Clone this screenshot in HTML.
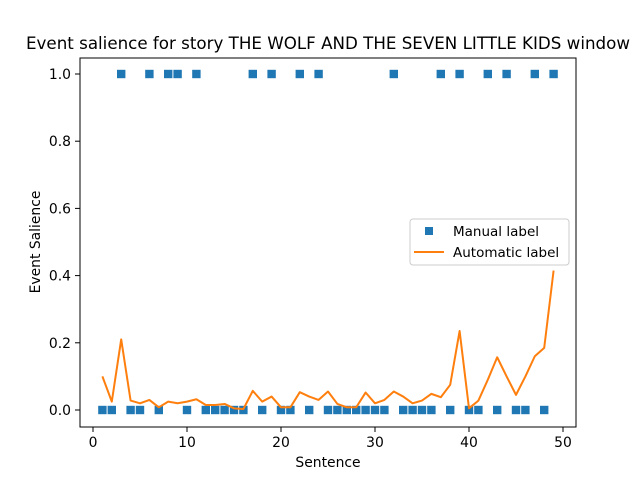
<!DOCTYPE html>
<html><head><meta charset="utf-8"><style>
body{margin:0;background:#fff;}
svg text{font-family:"DejaVu Sans","Liberation Sans",sans-serif;fill:#000;}
</style></head><body>
<svg id="chart" width="640" height="480" xmlns="http://www.w3.org/2000/svg">
<rect width="640" height="480" fill="#fff"/>
<text x="328" y="49" font-size="16.7" text-anchor="middle">Event salience for story THE WOLF AND THE SEVEN LITTLE KIDS window</text>
<g id="marks"></g>
<rect x="80" y="58" width="496" height="369" fill="none" stroke="#000" stroke-width="1"/>
<g id="axes"></g>
<text x="328" y="467" font-size="13.9" text-anchor="middle">Sentence</text>
<text x="0" y="0" font-size="13.9" text-anchor="middle" transform="translate(40,242) rotate(-90)">Event Salience</text>
<g>
<rect x="410" y="219" width="159" height="46" rx="3" fill="#fff" stroke="#ccc" stroke-width="1"/>
<rect x="425" y="227" width="8" height="8" fill="#1f77b4"/>
<text x="453" y="236" font-size="13.5">Manual label</text>
<line x1="414" y1="252" x2="444" y2="252" stroke="#ff7f0e" stroke-width="2"/>
<text x="453" y="257" font-size="13.5">Automatic label</text>
</g>
</svg>
<script>
const sentences = [];
for (let i = 1; i <= 49; i++) sentences.push(i);
const manualOnes = [3,6,8,9,11,17,19,22,24,32,37,39,42,44,47,49];
const manualLabel = sentences.map(s => manualOnes.includes(s) ? 1 : 0);
const automaticLabel = [0.10,0.025,0.21,0.028,0.02,0.03,0.008,0.025,0.02,0.025,0.032,0.015,0.015,0.018,0.005,0.003,0.057,0.025,0.04,0.008,0.008,0.053,0.04,0.03,0.055,0.018,0.008,0.008,0.052,0.02,0.03,0.055,0.04,0.02,0.028,0.048,0.038,0.075,0.235,0.005,0.028,0.09,0.157,0.1,0.045,0.1,0.16,0.185,0.415];
const xTicks = [0,10,20,30,40,50];
const yTicks = [0.0,0.2,0.4,0.6,0.8,1.0];
const yTickLabels = ["0.0","0.2","0.4","0.6","0.8","1.0"];

const NS = "http://www.w3.org/2000/svg";
const xs = v => 93 + v * 9.4;
const ys = v => 410 - v * 336;
const marks = document.getElementById('marks');
const axes = document.getElementById('axes');

sentences.forEach((s, i) => {
  const r = document.createElementNS(NS, 'rect');
  r.setAttribute('x', xs(s) - 4.2); r.setAttribute('y', ys(manualLabel[i]) - 4.2);
  r.setAttribute('width', 8.4); r.setAttribute('height', 8.4);
  r.setAttribute('fill', '#1f77b4');
  
  
  marks.appendChild(r);
});
const pl = document.createElementNS(NS, 'polyline');
pl.setAttribute('points', sentences.map((s, i) => xs(s) + ',' + ys(automaticLabel[i])).join(' '));
pl.setAttribute('fill', 'none'); pl.setAttribute('stroke', '#ff7f0e'); pl.setAttribute('stroke-width', '2');
pl.setAttribute('stroke-linejoin', 'round');


marks.appendChild(pl);

xTicks.forEach(t => {
  const l = document.createElementNS(NS, 'line');
  l.setAttribute('x1', xs(t)); l.setAttribute('x2', xs(t)); l.setAttribute('y1', 427); l.setAttribute('y2', 432);
  l.setAttribute('stroke', '#000');
  
  
  axes.appendChild(l);
  const tx = document.createElementNS(NS, 'text');
  tx.setAttribute('x', xs(t)); tx.setAttribute('y', 447); tx.setAttribute('font-size', '13.9');
  tx.setAttribute('text-anchor', 'middle'); tx.textContent = t;
  
  
  axes.appendChild(tx);
});
yTicks.forEach((t, i) => {
  const l = document.createElementNS(NS, 'line');
  l.setAttribute('x1', 75); l.setAttribute('x2', 80); l.setAttribute('y1', ys(t)); l.setAttribute('y2', ys(t));
  l.setAttribute('stroke', '#000');
  
  
  axes.appendChild(l);
  const tx = document.createElementNS(NS, 'text');
  tx.setAttribute('x', 71); tx.setAttribute('y', ys(t) + 5); tx.setAttribute('font-size', '13.9');
  tx.setAttribute('text-anchor', 'end'); tx.textContent = yTickLabels[i];
  
  
  axes.appendChild(tx);
});
</script>
</body></html>
